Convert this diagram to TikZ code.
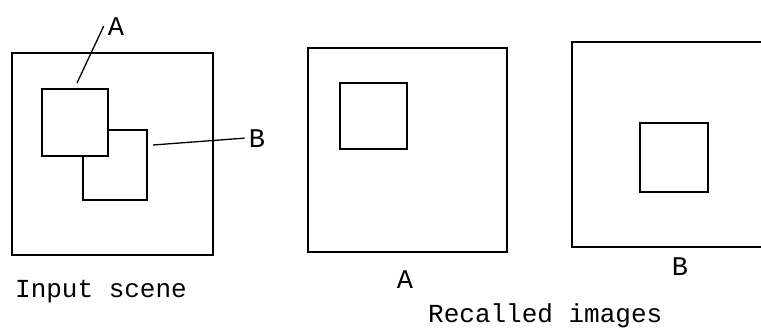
\documentclass[tikz,border=0pt]{standalone}
\usepackage{fontspec}
\setmonofont{Liberation Mono}
\usepackage{tikz}
\usetikzlibrary{positioning}

\begin{document}
\begin{tikzpicture}[
  x=1pt,y=-1pt,
  frame/.style={draw,line width=1.5pt,rectangle,inner sep=0pt},
  sq/.style={frame,fill=white},
  lead/.style={line width=1.3pt},
  lbl/.style={font=\ttfamily\fontsize{27}{30}\selectfont,inner sep=4pt,anchor=base},
  captxt/.style={font=\ttfamily\fontsize{26}{30}\selectfont,inner sep=0pt,anchor=base west}
]
  \useasboundingbox (0,0) rectangle (761,330);
  % input scene
  \node[frame,minimum width=201pt,minimum height=202pt] (scene) at (112.5,154) {};
  \node[sq,minimum width=64pt,minimum height=70pt]      (sqB)   at (115,165)   {};
  \node[sq,minimum width=66pt,minimum height=67pt]      (sqA)   at (75,122.5)  {};
  \node[lbl] (labA) at (116,35)  {A};
  \node[lbl] (labB) at (257,147) {B};
  \coordinate (tipA) at (77,83);
  \coordinate (tipB) at (153,145);
  \draw[lead] (tipA) -- (labA.west);
  \draw[lead] (tipB) -- (labB.west);
  \node[captxt] (inp) at (15,297) {Input scene};
  % recalled A
  \node[frame,minimum width=199pt,minimum height=204pt] (recA)  at (407.5,150) {};
  \node[sq,minimum width=67pt,minimum height=66pt]      (recAa) at (373.5,116) {};
  \node[lbl] (capA) at (405,288) {A};
  % recalled B, cut at the right edge
  \draw[line width=1.5pt] (761,42) -- (572,42) -- (572,247) -- (761,247);
  \node[sq,minimum width=68pt,minimum height=69pt]      (recBb) at (674,157.5) {};
  \node[lbl] (capB) at (680,275) {B};
  \node[captxt] (rec) at (428,322) {Recalled images};
\end{tikzpicture}
\end{document}
